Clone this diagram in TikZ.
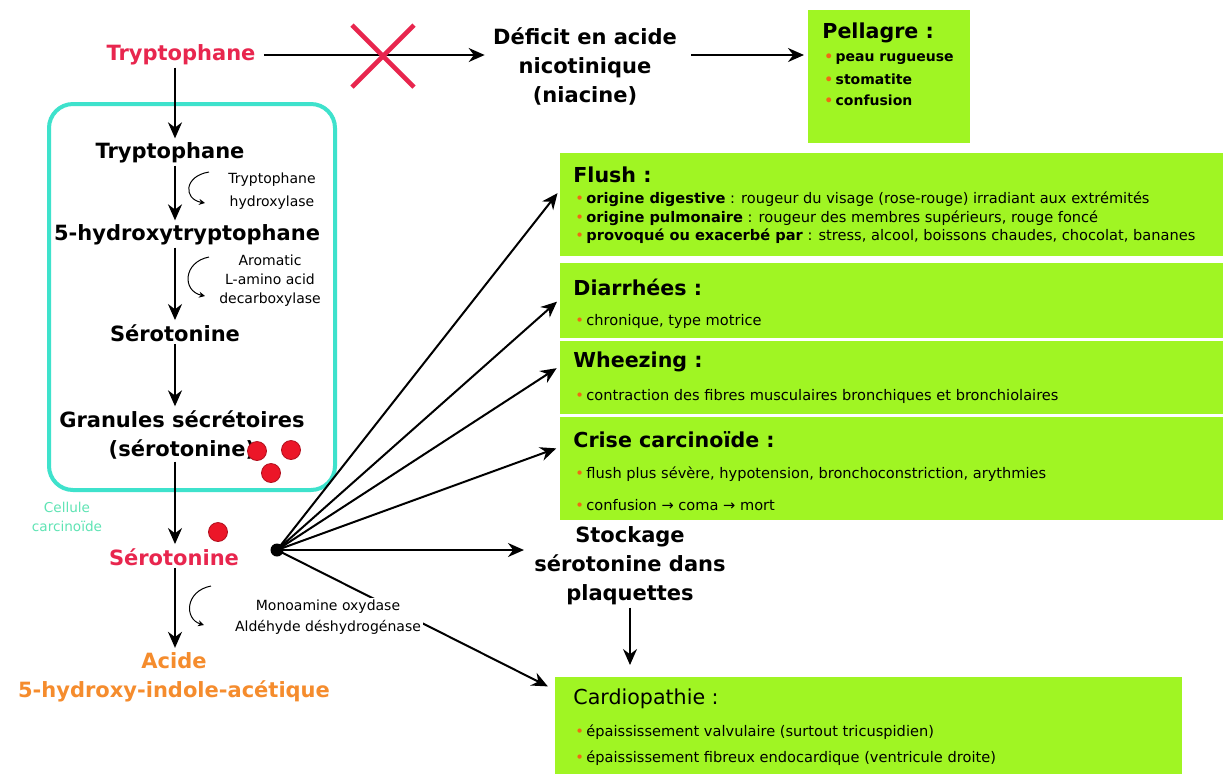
\documentclass[tikz,border=0pt]{standalone}
\usepackage{fontspec}
\setmainfont{DejaVu Sans}
\usepackage{xcolor}
\usetikzlibrary{arrows.meta}

\definecolor{boxgreen}{RGB}{160,245,35}
\definecolor{trpred}{RGB}{232,38,78}
\definecolor{acidorange}{RGB}{245,140,45}
\definecolor{cellcyan}{RGB}{62,226,204}
\definecolor{celltext}{RGB}{95,228,180}
\definecolor{puceorange}{RGB}{240,105,20}
\definecolor{granred}{RGB}{236,22,40}

\newcommand{\puce}{{\color{puceorange}\textbullet}\,}

\tikzset{
    arr/.style={-{Stealth[length=8pt,width=7pt]}, line width=1pt},
    enz/.style={-{Stealth[length=3pt,width=3pt]}, line width=0.5pt},
    main/.style={font=\fontsize{10.5}{14.5}\selectfont\bfseries, align=center, inner sep=1pt},
    enzyme/.style={font=\fontsize{7}{9.5}\selectfont, align=center, inner sep=1pt},
    greenbox/.style={fill=boxgreen, draw=none, anchor=north west, inner sep=0pt},
    boxhead/.style={font=\fontsize{10.3}{12}\selectfont\bfseries, anchor=west, inner sep=0pt},
    boxitem/.style={font=\fontsize{7.3}{8.5}\selectfont, anchor=west, inner sep=0pt},
    granule/.style={circle, fill=granred, draw=granred!75!black, line width=0.4pt, inner sep=0pt, minimum size=9.5pt}
}

\begin{document}
\begin{tikzpicture}[x=0.5pt,y=-0.5pt]
        \fill[white] (0,0) rectangle (1223,773);
        \clip (0,0) rectangle (1223,773);

        % carcinoid cell
        \node[draw=cellcyan, line width=2pt, rounded corners=12pt, anchor=north west,
              minimum width=143pt, minimum height=193pt, inner sep=0pt] (cell) at (47,102) {};
        \node[enzyme, text=celltext, font=\fontsize{6.8}{9.5}\selectfont] (celllabel) at (67,517) {Cellule\\carcinoïde};

        % pathway
        \coordinate (axis) at (175,0);
        \node[main, text=trpred] (tryp) at (181,55) {Tryptophane};
        \node[main] (tryp2) at (170,153) {Tryptophane};
        \node[main] (htp) at (187,235) {5-hydroxytryptophane};
        \node[main] (sero1) at (175,333) {Sérotonine};
        \node[main] (granules) at (182,435) {Granules sécrétoires\\(sérotonine)};
        \node[main, text=trpred] (sero2) at (174,557) {Sérotonine};
        \node[main, text=acidorange] (acide) at (174,677) {Acide\\5-hydroxy-indole-acétique};

        \draw[arr, shorten >=1pt] (tryp.south -| axis) -- (tryp2.north -| axis);
        \draw[arr, shorten >=1pt] (tryp2.south -| axis) -- (htp.north -| axis);
        \draw[arr, shorten >=1pt] (htp.south -| axis) -- (sero1.north -| axis);
        \draw[arr, shorten >=1pt] (sero1.south -| axis) -- (granules.north -| axis);
        \draw[arr, shorten >=1pt] (granules.south -| axis) -- (sero2.north -| axis);
        \draw[arr, shorten >=1pt] (sero2.south -| axis) -- (acide.north -| axis);

        % enzymes
        \node[enzyme, font=\fontsize{7}{11.5}\selectfont] (tph) at (272,191) {Tryptophane\\hydroxylase};
        \node[enzyme] (aadc) at (270,281) {Aromatic\\L-amino acid\\decarboxylase};
        \draw[enz] (209,172) .. controls (184,176) and (183,199) .. (205,203);
        \draw[enz] (209,257) .. controls (183,262) and (182,291) .. (205,296);
        \draw[enz] (211,586) .. controls (185,591) and (184,619) .. (204,625);

        % granules
        \node[granule] (g1) at (257,451) {};
        \node[granule] (g2) at (291,450) {};
        \node[granule] (g3) at (271,473) {};
        \node[granule] (g4) at (218,532) {};

        % niacin branch
        \node[main] (deficit) at (585,66) {Déficit en acide\\nicotinique\\(niacine)};
        \draw[arr, shorten <=3pt, shorten >=3pt] (tryp.east) -- (tryp.east -| deficit.west);
        \coordinate (cross) at (383,56);
        \draw[trpred, line width=2.3pt] ([shift={(-31,-31)}]cross) -- ([shift={(31,31)}]cross);
        \draw[trpred, line width=2.3pt] ([shift={(-31,31)}]cross) -- ([shift={(31,-31)}]cross);

        \node[greenbox, minimum width=81pt, minimum height=66.5pt] (pellagre) at (808,10) {};
        \node[boxhead] at (822,33) {Pellagre :};
        \node[boxitem, font=\fontsize{7}{8.5}\selectfont\bfseries] at (824,59) {\puce peau rugueuse};
        \node[boxitem, font=\fontsize{7}{8.5}\selectfont\bfseries] at (824,79) {\puce stomatite};
        \node[boxitem, font=\fontsize{7}{8.5}\selectfont\bfseries] at (824,100) {\puce confusion};
        \draw[arr, shorten <=6pt, shorten >=2pt] (deficit.east |- tryp) -- (pellagre.west |- tryp);

        % symptom boxes
        \node[greenbox, minimum width=340pt, minimum height=51.5pt] (flush) at (560,153) {};
        \node[boxhead] at (573,175) {Flush :};
        \node[boxitem] at (575,199) {\puce \textbf{origine digestive} : rougeur du visage (rose-rouge) irradiant aux extrémités};
        \node[boxitem] at (575,218) {\puce \textbf{origine pulmonaire} : rougeur des membres supérieurs, rouge foncé};
        \node[boxitem] at (575,236) {\puce \textbf{provoqué ou exacerbé par} : stress, alcool, boissons chaudes, chocolat, bananes};

        \node[greenbox, minimum width=340pt, minimum height=37.5pt] (diarrhees) at (560,263) {};
        \node[boxhead] at (573,287) {Diarrhées :};
        \node[boxitem] at (575,321) {\puce chronique, type motrice};

        \node[greenbox, minimum width=340pt, minimum height=36.5pt] (wheezing) at (560,341) {};
        \node[boxhead] at (573,362) {Wheezing :};
        \node[boxitem] at (575,396) {\puce contraction des fibres musculaires bronchiques et bronchiolaires};

        \node[greenbox, minimum width=340pt, minimum height=51.5pt] (crise) at (560,417) {};
        \node[boxhead] at (573,440) {Crise carcinoïde :};
        \node[boxitem] at (575,474) {\puce flush plus sévère, hypotension, bronchoconstriction, arythmies};
        \node[boxitem] at (575,505) {\puce confusion → coma → mort};

        % platelets and heart
        \node[main] (stockage) at (630,566) {Stockage\\sérotonine dans\\plaquettes};
        \node[greenbox, minimum width=313.5pt, minimum height=55pt] (cardio) at (555,677) {};
        \node[boxhead, font=\fontsize{10.3}{12}\selectfont] at (573,699) {Cardiopathie :};
        \node[boxitem] at (575,732) {\puce épaississement valvulaire (surtout tricuspidien)};
        \node[boxitem] at (575,758) {\puce épaississement fibreux endocardique (ventricule droite)};

        % release of serotonin
        \node[circle, fill=black, inner sep=0pt, minimum size=6.5pt] (hub) at (277,550) {};
        \draw[arr, shorten >=2pt] (hub.center) -- ([yshift=-18.5pt]flush.north west);
        \draw[arr, shorten >=2pt] (hub.center) -- ([yshift=-18pt]diarrhees.north west);
        \draw[arr, shorten >=2pt] (hub.center) -- ([yshift=-12.5pt]wheezing.north west);
        \draw[arr, shorten >=2pt] (hub.center) -- ([yshift=-15pt]crise.north west);
        \draw[arr, shorten >=4pt] (hub.center) -- (hub.center -| stockage.west);
        \draw[arr, shorten >=4pt] (hub.center) -- ([yshift=-6.5pt]cardio.north west);
        \draw[arr, shorten >=6pt] (stockage.south) -- (stockage.south |- cardio.north);
        \node[enzyme, fill=white, font=\fontsize{7}{10.5}\selectfont] (mao) at (328,617) {Monoamine oxydase\\Aldéhyde déshydrogénase};
\end{tikzpicture}
\end{document}
